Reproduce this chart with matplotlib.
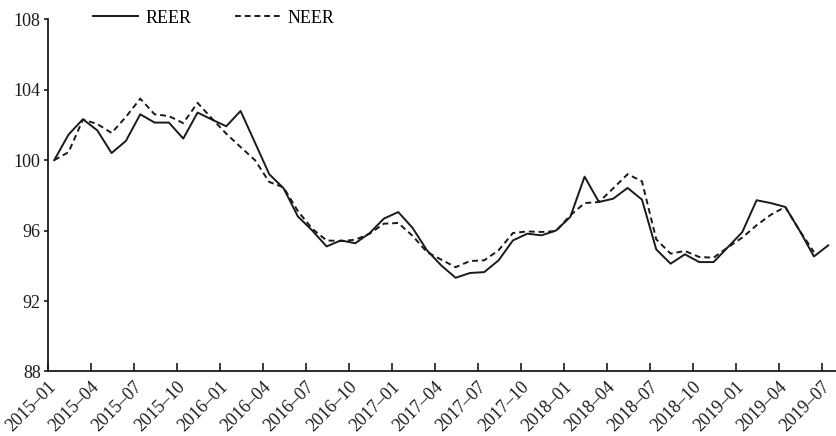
import numpy as np
import matplotlib
matplotlib.use("Agg")
import matplotlib.pyplot as plt

# monthly index, 2015-01 .. 2019-07
months = [f"{y}\u2013{m:02d}" for y in range(2015, 2020) for m in range(1, 13)][:55]

reer = [100.0, 101.45, 102.32, 101.69, 100.4, 101.09, 102.6, 102.13, 102.13, 101.22,
        102.7, 102.3, 101.92, 102.79, 101.0, 99.2, 98.4, 96.8, 96.0, 95.1,
        95.44, 95.28, 95.85, 96.68, 97.05, 96.15, 94.88, 94.02, 93.32, 93.59,
        93.64, 94.31, 95.44, 95.82, 95.73, 96.0, 96.77, 99.06, 97.62, 97.81,
        98.42, 97.76, 94.93, 94.12, 94.65, 94.21, 94.21, 95.06, 95.91, 97.72,
        97.56, 97.34, 96.0, 94.53, 95.16]

neer = [100.0, 100.45, 102.3, 102.05, 101.54, 102.45, 103.49, 102.6, 102.5, 102.1,
        103.25, 102.36, 101.5, 100.74, 100.0, 98.76, 98.45, 97.1, 96.1, 95.44,
        95.4, 95.48, 95.82, 96.39, 96.43, 95.7, 94.78, 94.35, 93.92, 94.27,
        94.31, 94.88, 95.86, 95.95, 95.92, 95.97, 96.86, 97.56, 97.62, 98.4,
        99.2, 98.8, 95.5, 94.69, 94.84, 94.5, 94.46, 95.05, 95.6, 96.3,
        96.9, 97.34, 96.0, 94.78]

tick_idx = list(range(0, 55, 3))
yticks = [88, 92, 96, 100, 104, 108]

plt.rcParams['font.family'] = ['Liberation Serif', 'DejaVu Serif']
plt.rcParams['font.size'] = 13

fig = plt.figure(figsize=(8.36, 4.36), dpi=100)
ax = fig.add_axes([0.057, 0.148, 0.943, 0.808])

ink = '#1a1a1a'
x_r = np.arange(len(reer)) + 0.46
x_n = np.arange(len(neer)) + 0.46
ax.plot(x_r, reer, color=ink, lw=1.4, label='REER')
ax.plot(x_n, neer, color=ink, lw=1.4, ls=(0, (3, 2)), label='NEER')

ax.set_xlim(0, 55)
ax.set_ylim(88, 108)
ax.set_yticks(yticks)
ax.set_xticks(tick_idx)
ax.set_xticklabels([months[i] for i in tick_idx], rotation=45, ha='right',
                   rotation_mode='anchor')

for s in ['top', 'right']:
    ax.spines[s].set_visible(False)
for s in ['left', 'bottom']:
    ax.spines[s].set_linewidth(1.3)
    ax.spines[s].set_color(ink)
ax.tick_params(axis='x', direction='in', length=6, width=1.2, colors=ink, pad=5)
ax.tick_params(axis='y', direction='out', length=3, width=1.2, colors=ink, pad=2)

fig.legend(loc='upper left', bbox_to_anchor=(0.092, 1.015), ncol=2, frameon=False,
           handlelength=2.5, handletextpad=0.4, columnspacing=2.4, fontsize=13)

fig.savefig("out.png", dpi=100)
